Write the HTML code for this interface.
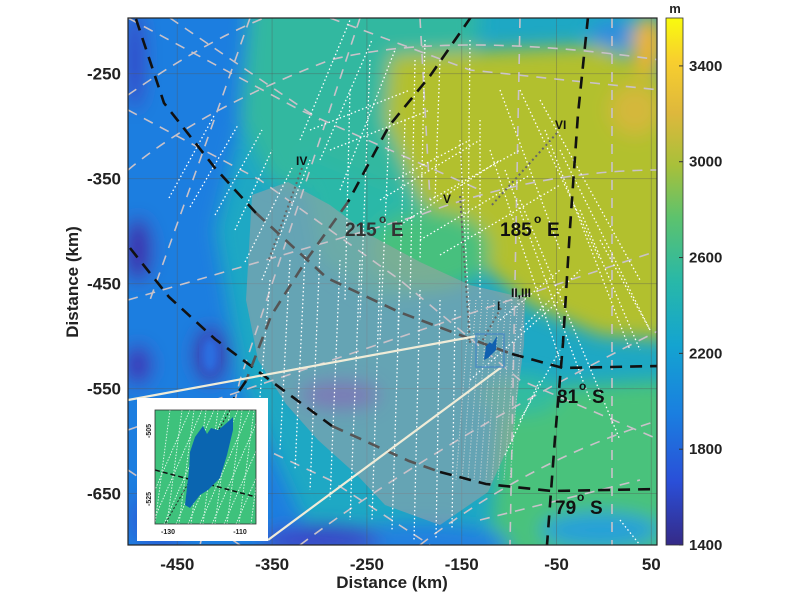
<!DOCTYPE html>
<html><head><meta charset="utf-8"><style>
body{margin:0;background:#fff;width:800px;height:600px;overflow:hidden;font-family:"Liberation Sans",Arial,sans-serif}
svg text{font-family:"Liberation Sans",Arial,sans-serif}
</style></head><body>
<svg id="chart" width="800" height="600" viewBox="0 0 800 600" xmlns="http://www.w3.org/2000/svg">
<defs>
<filter id="blur" x="-20%" y="-20%" width="140%" height="140%"><feGaussianBlur stdDeviation="9"/></filter>
<filter id="blur2"><feGaussianBlur stdDeviation="4"/></filter>
<clipPath id="plotclip"><rect x="128" y="18" width="529" height="527"/></clipPath>
<clipPath id="insetclip"><rect x="155" y="410" width="101" height="114"/></clipPath>
<linearGradient id="parula" x1="0" y1="1" x2="0" y2="0">
<stop offset="0" stop-color="#352a87"/><stop offset="0.12" stop-color="#2a4fd8"/><stop offset="0.25" stop-color="#1a7fe0"/><stop offset="0.38" stop-color="#14a4d0"/><stop offset="0.5" stop-color="#28b8a8"/><stop offset="0.62" stop-color="#5cc26e"/><stop offset="0.72" stop-color="#a8c03a"/><stop offset="0.82" stop-color="#deb83c"/><stop offset="0.92" stop-color="#f8cf2e"/><stop offset="1" stop-color="#f9fb0e"/>
</linearGradient>
</defs>
<g clip-path="url(#plotclip)">
<rect x="128" y="18" width="529" height="527" fill="#1ea8c4"/>
<g filter="url(#blur)">
<polygon points="100,0 250,0 245,110 215,230 240,380 320,560 100,560" fill="#1f7ee0"/>
<polygon points="250,0 480,0 470,120 420,200 330,200 270,180 240,120" fill="#30b8a0"/>
<polygon points="300,150 420,200 440,290 380,300 320,260" fill="#2ab8a8"/>
<polygon points="390,55 600,45 670,80 670,340 600,335 530,305 470,255 420,200 385,120" fill="#b2c02e"/>
<ellipse cx="430" cy="250" rx="60" ry="40" fill="#46c07e"/>
<ellipse cx="635" cy="110" rx="25" ry="25" fill="#d4b83a"/>
<ellipse cx="648" cy="45" rx="16" ry="30" fill="#eeb431"/>
<ellipse cx="612" cy="35" rx="22" ry="14" fill="#2e8ce0"/>
<polygon points="500,390 670,380 670,560 490,560" fill="#4ac27c"/>
<ellipse cx="520" cy="395" rx="40" ry="20" fill="#30bca0"/>
<ellipse cx="420" cy="545" rx="90" ry="22" fill="#2080e0"/>
<ellipse cx="600" cy="530" rx="60" ry="18" fill="#25a0d8"/>
<ellipse cx="138" cy="250" rx="14" ry="32" fill="#3b2fae"/>
<ellipse cx="138" cy="365" rx="14" ry="20" fill="#3b35b8"/>
<ellipse cx="210" cy="355" rx="16" ry="28" fill="#3a2faa"/>
<ellipse cx="135" cy="60" rx="10" ry="50" fill="#3545c8"/>
<ellipse cx="320" cy="540" rx="60" ry="14" fill="#3a45c8"/>
<ellipse cx="160" cy="520" rx="30" ry="30" fill="#2c5ed8"/>
<ellipse cx="340" cy="395" rx="40" ry="14" fill="#5050c8"/>
</g>
<ellipse cx="210" cy="355" rx="9" ry="18" fill="#2a6ee0" filter="url(#blur2)"/>
</g>
<g clip-path="url(#plotclip)">
<g stroke="#555" stroke-opacity="0.35" stroke-width="1" id="grid"></g>
<polygon points="252,195 288,182 330,205 370,235 420,262 470,285 525,298 524,345 512,438 488,492 440,525 385,505 358,476 318,440 286,404 258,360 246,300" fill="#a0a0a8" fill-opacity="0.55"/>
<g fill="none" stroke="#c9c2c9" stroke-width="1.6" stroke-dasharray="10 8">
<path d="M128,95 Q250,10 330,0"/><path d="M128,170 Q200,110 330,60 Q450,30 660,60"/>
<path d="M128,300 Q300,250 420,215 Q540,170 660,170"/><path d="M128,430 Q300,370 660,250"/>
<path d="M300,545 Q440,440 660,330"/><path d="M420,545 Q530,460 660,420"/>
<path d="M128,18 L300,110 L480,190"/><path d="M170,18 L320,120"/><path d="M330,18 L470,70 L660,90"/>
<path d="M160,400 L330,480 L430,545"/><path d="M128,470 L240,545"/>
<path d="M128,110 L260,180 L400,280 L520,380 L660,440"/>
<path d="M612,18 L612,545"/><path d="M520,18 L510,545"/><path d="M420,18 L430,200"/><path d="M360,18 L300,200 L240,380 L200,545"/>
<path d="M250,18 L200,160 L150,300"/><path d="M480,520 L640,480"/>
</g>
<g id="tracks" fill="none" stroke="#fff" stroke-width="1.3" stroke-dasharray="1.5 2.5"></g>
<g fill="none" stroke="#dcdcdc" stroke-width="1" stroke-dasharray="1 2" id="dense"></g>
<g fill="none" stroke="#111" stroke-width="2.6" stroke-dasharray="12 8">
<path d="M136,19 L164,103 L215,168 L256,213"/>
<path d="M256,213 L327,278 L399,312 L460,335 L512,354" stroke="#555"/>
<path d="M512,354 L563,368 L658,366"/>
<path d="M130,248 L169,297 L215,339 L271,381 L332,426"/>
<path d="M332,426 L409,461 L440,472" stroke="#555"/>
<path d="M440,472 L486,484 L552,491 L658,489"/>
<path d="M471,17 L430,76 L389,126 L348,202"/>
<path d="M348,202 L307,259 L271,316 L246,381" stroke="#555"/>
<path d="M246,381 L220,419 L205,440"/>
<path d="M588,17 L578,114 L570,228 L563,343 L555,438 L547,545"/>
</g>
<g fill="none" stroke="#666" stroke-width="2" stroke-dasharray="2 3">
<path d="M302,168 L268,262"/><path d="M460,196 L470,343"/><path d="M557,133 L491,206"/><path d="M501,308 L481,343"/>
</g>
<g stroke="#f0ecd8" stroke-width="2.2">
<line x1="477" y1="336" x2="128" y2="400"/><line x1="503" y1="366" x2="268" y2="540"/>
</g>
<rect x="476" y="334" width="28" height="33" fill="none" stroke="#4d8cc0" stroke-width="1.5"/>
<path d="M484,360 L486,346 L490,342 L492,344 L497,336 L496,350 L488,358 Z" fill="#1060b0"/>
<g font-weight="bold" fill="#111">
<text x="296" y="165" font-size="12">IV</text><text x="443" y="203" font-size="12">V</text><text x="555" y="129" font-size="12">VI</text>
<text x="511" y="297" font-size="12">II,III</text><text x="497" y="310" font-size="12">I</text>
<text x="345" y="236" font-size="19" fill="#333">215</text><text x="379" y="223" font-size="12" fill="#333">o</text><text x="391" y="236" font-size="19" fill="#333">E</text>
<text x="500" y="236" font-size="19">185</text><text x="534" y="223" font-size="12">o</text><text x="547" y="236" font-size="19">E</text>
<text x="557" y="403" font-size="19">81</text><text x="579" y="390" font-size="12">o</text><text x="592" y="403" font-size="19">S</text>
<text x="555" y="514" font-size="19">79</text><text x="577" y="501" font-size="12">o</text><text x="590" y="514" font-size="19">S</text>
</g>
</g>
<rect x="128" y="18" width="529" height="527" fill="none" stroke="#222" stroke-width="1.2"/>
<g id="axes" font-weight="bold" font-size="17" fill="#222"></g>
<text x="392" y="588" text-anchor="middle" font-weight="bold" font-size="17" fill="#222">Distance (km)</text>
<text transform="translate(78,282) rotate(-90)" text-anchor="middle" font-weight="bold" font-size="17" fill="#222">Distance (km)</text>
<g>
<rect x="137" y="398" width="131" height="143" fill="#fff"/>
<g clip-path="url(#insetclip)">
<rect x="155" y="410" width="101" height="114" fill="#3ec27c"/>
<g id="insettracks" fill="none" stroke="#eafaf0" stroke-width="0.9" stroke-dasharray="1.5 1.5"></g>
<path d="M155,470 L256,497" stroke="#111" stroke-width="1.5" stroke-dasharray="5 3"/>
<path d="M230,410 L165,524" stroke="#222" stroke-width="1" stroke-dasharray="2 2"/>
<path d="M185,505 L189,470 L190,452 L195,437 L203,426 L207,434 L211,428 L218,430 L222,427 L230,420 L233,417 L233,430 L227,455 L220,478 L208,490 L200,495 L190,508 Z" fill="#0a65b0"/>
</g>
<rect x="155" y="410" width="101" height="114" fill="none" stroke="#333" stroke-width="0.8"/>
<text x="168" y="534" font-size="7" font-weight="bold" fill="#222" text-anchor="middle">-130</text>
<text x="240" y="534" font-size="7" font-weight="bold" fill="#222" text-anchor="middle">-110</text>
<text transform="translate(151,431) rotate(-90)" font-size="7" font-weight="bold" fill="#222" text-anchor="middle">-505</text>
<text transform="translate(151,499) rotate(-90)" font-size="7" font-weight="bold" fill="#222" text-anchor="middle">-525</text>
</g>
<rect x="666" y="18" width="17" height="527" fill="url(#parula)" stroke="#333" stroke-width="0.8"/>
<text x="675" y="13" text-anchor="middle" font-weight="bold" font-size="13" fill="#222">m</text>
<g id="cbticks" font-weight="bold" font-size="15" fill="#222"></g>
</svg>
<script>
var xTicks = [-450, -350, -250, -150, -50, 50];
var yTicks = [-250, -350, -450, -550, -650];
var cbTicks = [1400, 1800, 2200, 2600, 3000, 3400];
var cbRange = [1400, 3600];
var xDomain = [-502, 56];
var yDomain = [-197, -699];
function sx(v){ return 128 + (v - xDomain[0]) / (xDomain[1] - xDomain[0]) * 529; }
function sy(v){ return 18 + (v - yDomain[0]) / (yDomain[1] - yDomain[0]) * 527; }
function cy(v){ return 545 - (v - cbRange[0]) / (cbRange[1] - cbRange[0]) * 527; }
var NS = 'http://www.w3.org/2000/svg';
function mk(tag, attrs, parent){ var e = document.createElementNS(NS, tag); for (var k in attrs) e.setAttribute(k, attrs[k]); parent.appendChild(e); return e; }
var axes = document.getElementById('axes'), grid = document.getElementById('grid');
xTicks.forEach(function(v){
  var x = sx(v);
  var g = mk('line', {x1:x, y1:18, x2:x, y2:545}, grid);
  
  
  var t = mk('text', {x:x, y:570, 'text-anchor':'middle'}, axes);
  t.textContent = v;
  
  
});
yTicks.forEach(function(v){
  var y = sy(v);
  var g = mk('line', {x1:128, y1:y, x2:657, y2:y}, grid);
  
  
  var t = mk('text', {x:121, y:y+6, 'text-anchor':'end'}, axes);
  t.textContent = v;
  
  
});
var cb = document.getElementById('cbticks');
cbTicks.forEach(function(v){
  var y = cy(v);
  mk('line', {x1:683, y1:y, x2:679, y2:y, stroke:'#333'}, cb);
  var t = mk('text', {x:689, y:y+5}, cb);
  t.textContent = v;
  
  
});
var tracks = [
 [169,198,215,114],[190,207,238,125],[215,215,262,130],[235,230,272,150],[245,262,292,168],[262,280,310,160],
 [300,140,350,20],[320,160,372,40],[340,190,395,50],[310,130,410,90],[330,150,430,110],[380,200,480,140],
 [400,225,500,160],[420,240,530,175],[440,255,560,185],[395,180,470,140],[430,200,520,150],
 [415,60,410,300],[425,40,420,260],[440,60,435,200],[470,40,468,240],[370,60,360,320],[350,90,345,300],
 [390,110,380,340],[405,120,398,330],[460,140,470,330],[480,120,480,300],
 [500,90,560,250],[520,90,600,260],[540,100,640,280],[560,150,650,330],[580,210,640,350],[520,200,620,440],
 [490,150,560,360],[505,170,590,400],[545,130,630,350],[600,240,650,330],[620,520,640,545],
 [290,260,280,450],[305,255,295,470],[320,250,310,490],[340,260,330,500],[360,260,350,520],[380,270,372,520],
 [400,280,392,530],[420,290,414,540],[440,300,436,540],[455,310,452,530],[270,280,258,420],
 [500,320,560,270],[520,330,580,270],[470,380,560,300],[520,420,560,350],[505,455,540,380]
];
var tg = document.getElementById('tracks');
tracks.forEach(function(s){
  var l = mk('line', {x1:s[0], y1:s[1], x2:s[2], y2:s[3]}, tg);
  
  
});
var dense = document.getElementById('dense');
var denseX = [462,468,474,480,486,492,498,504,510,516];
denseX.forEach(function(x){
  var l = mk('line', {x1:x+8, y1:300, x2:x-6, y2:480}, dense);
  
  
});
var ig = document.getElementById('insettracks');
var insetX = [160,172,184,196,208,220,232,244,256];
insetX.forEach(function(x){
  var l = mk('line', {x1:x+10, y1:410, x2:x-5, y2:524}, ig);
  
  
  var l2 = mk('line', {x1:x-20, y1:524, x2:x+30, y2:410}, ig);
  
  
});
</script>
</body></html>
